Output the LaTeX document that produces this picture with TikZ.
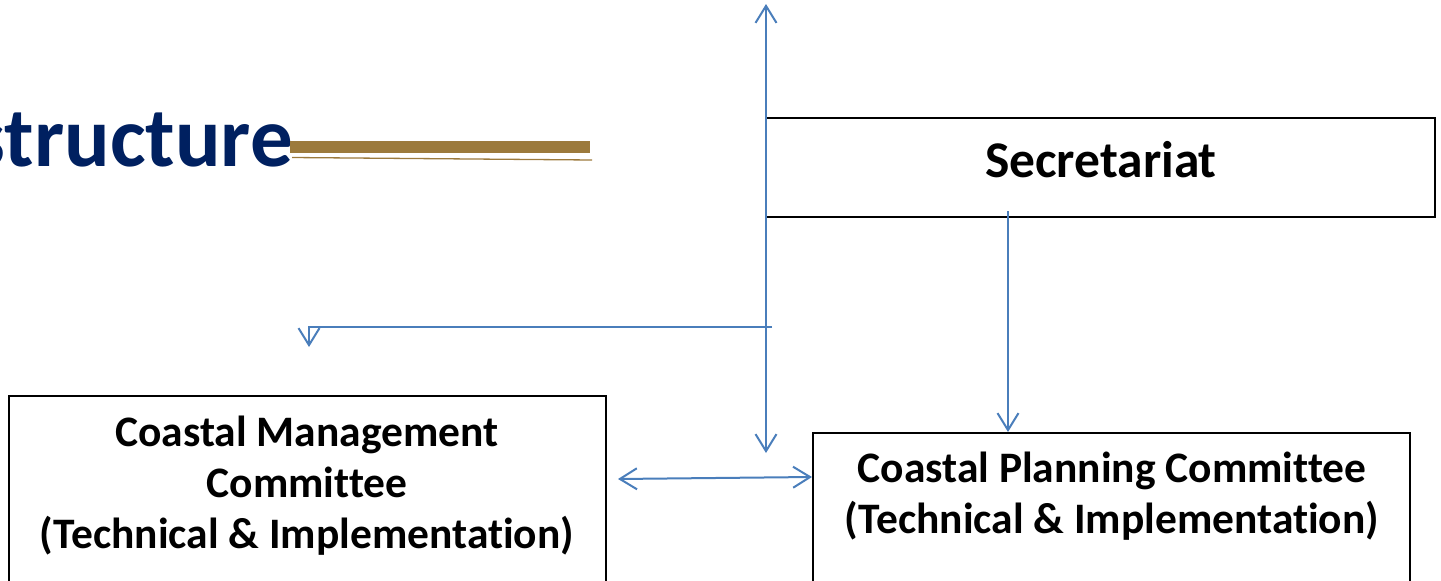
\documentclass[tikz,border=0pt]{standalone}
\usepackage{fontspec}
\setmainfont{Carlito}[Ligatures={NoCommon,TeX}]
\usetikzlibrary{arrows.meta}
\definecolor{navy}{HTML}{002060}
\definecolor{gold}{HTML}{9C7A3C}
\definecolor{lineblue}{HTML}{4A7EBB}
\tikzset{
  box/.style={draw=black, line width=1.8pt},
  lbl/.style={font=\bfseries\fontsize{43.5}{51}\selectfont, align=center, inner sep=0pt},
  conn/.style={draw=lineblue, line width=2pt},
  tip/.style={-{Straight Barb[length=17pt,width=21pt,line width=2pt]}},
  dtip/.style={{Straight Barb[length=17pt,width=21pt,line width=2pt]}-{Straight Barb[length=17pt,width=21pt,line width=2pt]}}
}
\begin{document}
\begin{tikzpicture}[x=1pt,y=-1pt]
\useasboundingbox (0,0) rectangle (1441,581);
% title
\node[anchor=base east, inner sep=0pt, text=navy, font=\bfseries\fontsize{85}{90}\selectfont] (title) at (293,166) {structure};
\fill[gold] (290,141) rectangle (590,153);
\draw[gold, line width=1.3pt] (292,157.5) -- (592,160);
% boxes
\draw[box] (766,118) rectangle (1435,217);
\node[lbl, font=\bfseries\fontsize{51.5}{51}\selectfont] (sec) at (1101,160) {Secretariat};
\draw[box] (9,396) rectangle (606,590);
\node[lbl] (cmc) at (307,485.5) {Coastal Management\\Committee\\(Technical \& Implementation)};
\draw[box] (813,433) rectangle (1410,590);
\node[lbl] (cpc) at (1112,496) {Coastal Planning Committee\\(Technical \& Implementation)};
% connectors
\coordinate (vtop) at (766,4);
\coordinate (vbot) at (766,453);
\draw[conn, dtip] (vbot) -- (vtop);
\coordinate (hr) at (772,327);
\coordinate (hl) at (309,327);
\coordinate (hd) at (309,347);
\draw[conn, tip] (hr) -- (hl) -- (hd);
\coordinate (sd1) at (1008,211);
\coordinate (sd2) at (1008,432);
\draw[conn, tip] (sd1) -- (sd2);
\coordinate (bl) at (618,479);
\coordinate (br) at (812,477);
\draw[conn, dtip] (bl) -- (br);
\end{tikzpicture}
\end{document}
